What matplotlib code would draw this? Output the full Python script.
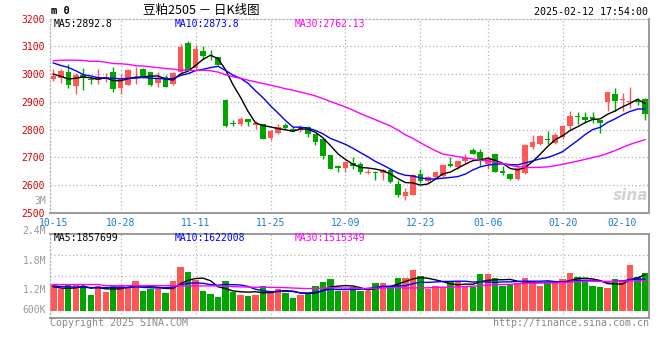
import matplotlib.pyplot as plt
import numpy as np
import pandas as pd

# daily K-line, 豆粕2505, 2024-10-15 .. 2025-02-12 (80 sessions)
open_ = [2982, 2987, 3007, 2958, 2995, 2982, 2979, 2981, 3007, 2951,
         2960, 3013, 3018, 3007, 2969, 2989, 2964, 3006, 3113, 3023,
         3083, 3080, 3060, 2905, 2825, 2821, 2840, 2818, 2822, 2770,
         2787, 2816, 2804, 2799, 2808, 2783, 2765, 2708, 2668, 2662,
         2681, 2675, 2644, 2648, 2645, 2654, 2606, 2562, 2564, 2639,
         2615, 2630, 2633, 2676, 2667, 2687, 2726, 2720, 2678, 2711,
         2651, 2642, 2622, 2644, 2738, 2747, 2768, 2753, 2773, 2812,
         2850, 2844, 2845, 2836, 2898, 2929, 2905, 2899, 2907, 2910]
high = [3020, 3017, 3036, 3005, 3022, 2990, 3018, 3005, 3025, 3000,
        3017, 3024, 3021, 3007, 3007, 2995, 3007, 3110, 3118, 3104,
        3100, 3086, 3060, 2912, 2835, 2846, 2840, 2830, 2822, 2800,
        2820, 2825, 2809, 2815, 2812, 2783, 2765, 2708, 2672, 2687,
        2701, 2685, 2657, 2652, 2657, 2657, 2618, 2589, 2639, 2660,
        2633, 2649, 2676, 2701, 2687, 2711, 2734, 2729, 2705, 2713,
        2669, 2645, 2669, 2747, 2782, 2779, 2794, 2788, 2818, 2866,
        2862, 2864, 2862, 2836, 2937, 2949, 2931, 2952, 2913, 2913]
low = [2976, 2969, 2951, 2930, 2942, 2963, 2964, 2971, 2937, 2930,
       2959, 2966, 2987, 2957, 2955, 2955, 2960, 3005, 3012, 3020,
       3055, 3050, 3031, 2810, 2812, 2814, 2812, 2804, 2765, 2764,
       2783, 2804, 2794, 2791, 2774, 2743, 2694, 2657, 2648, 2648,
       2660, 2640, 2640, 2617, 2620, 2607, 2558, 2546, 2564, 2609,
       2610, 2625, 2630, 2667, 2660, 2681, 2711, 2669, 2660, 2648,
       2636, 2620, 2620, 2640, 2731, 2743, 2747, 2750, 2766, 2798,
       2822, 2824, 2824, 2788, 2866, 2866, 2866, 2877, 2889, 2836]
close = [2994, 3010, 2961, 2996, 2987, 2977, 2988, 2985, 2946, 2984,
         3014, 3016, 2988, 2962, 2986, 2955, 3004, 3096, 3012, 3089,
         3064, 3078, 3033, 2812, 2819, 2839, 2826, 2825, 2765, 2794,
         2809, 2805, 2796, 2811, 2785, 2755, 2706, 2657, 2662, 2684,
         2669, 2648, 2647, 2643, 2654, 2611, 2564, 2576, 2637, 2615,
         2630, 2649, 2673, 2669, 2687, 2699, 2714, 2687, 2699, 2648,
         2645, 2622, 2661, 2743, 2755, 2776, 2762, 2782, 2814, 2850,
         2844, 2836, 2839, 2824, 2934, 2902, 2911, 2902, 2898, 2856]
# volume, millions of lots
volume = [1.378, 1.120, 1.310, 1.310, 1.275, 0.810, 1.275, 0.965, 1.275, 1.327,
          1.239, 1.533, 1.017, 1.120, 1.136, 0.929, 1.533, 2.256, 1.998, 1.585,
          1.017, 0.862, 0.707, 1.533, 0.981, 0.810, 0.759, 0.810, 1.275, 1.032,
          1.136, 0.929, 0.656, 0.810, 0.914, 1.275, 1.481, 1.636, 1.032, 1.032,
          1.208, 1.032, 1.032, 1.445, 1.445, 1.275, 1.688, 1.688, 2.101, 1.791,
          1.105, 1.275, 1.239, 1.533, 1.533, 1.275, 1.239, 1.894, 1.894, 1.688,
          1.275, 1.327, 1.414, 1.688, 1.533, 1.275, 1.445, 1.481, 1.636, 1.962,
          1.740, 1.585, 1.275, 1.223, 1.172, 1.636, 1.585, 2.359, 1.740, 1.962]

# moving-average values before a full window exists
ma5_head = [3000, 2992, 2982, 2985]
ma10_head = [3040, 3031, 3024, 3012, 2998, 2993, 2987, 2986, 2985]
ma30_head = [3048, 3050, 3050, 3050, 3049, 3046, 3046, 3043, 3038, 3037,
             3035, 3030, 3029, 3026, 3023, 3020, 3018, 3014, 3014, 3013,
             3014, 3012, 3007, 2998, 2990, 2985, 2978, 2972, 2966]
vma5_head = [1.24, 1.17, 1.15, 1.18]
vma10_head = [1.27, 1.25, 1.23, 1.21, 1.20, 1.19, 1.19, 1.19, 1.20]
vma30_head = [1.35, 1.35, 1.35, 1.35, 1.35, 1.35, 1.35, 1.29, 1.29, 1.29,
              1.29, 1.29, 1.29, 1.29, 1.29, 1.29, 1.29, 1.28, 1.28, 1.28,
              1.28, 1.28, 1.28, 1.28, 1.24, 1.23, 1.22, 1.21, 1.21]

tick_idx = [0, 9, 19, 29, 39, 49, 58, 68, 76]
tick_labels = ['10-15', '10-28', '11-11', '11-25', '12-09', '12-23', '01-06', '01-20', '02-10']
grid_idx = [9, 19, 29, 39, 49, 58, 68]
price_ticks = [2500, 2600, 2700, 2800, 2900, 3000, 3100, 3200]

ma_text = ['MA5:2892.8', 'MA10:2873.8', 'MA30:2762.13']
vma_text = ['MA5:1857699', 'MA10:1622008', 'MA30:1515349']
vol_labels = ['3M', '2.4M', '1.8M', '1.2M', '600K']

RED = '#ff5656'
GREEN = '#00a600'
MA_COLORS = ['black', '#0000ff', '#ff00ff']
GRID = '#b4b4b4'
FRAME = '#9a9a9a'
MONO = 'DejaVu Sans Mono'

open_ = np.array(open_, float)
close = np.array(close, float)
high = np.array(high, float)
low = np.array(low, float)
volume = np.array(volume)
x = np.arange(len(close))


def moving_avg(values, n, head):
    m = pd.Series(values).rolling(n).mean().to_numpy()
    m[:n - 1] = head
    return m


ma = [moving_avg(close, 5, ma5_head), moving_avg(close, 10, ma10_head),
      moving_avg(close, 30, ma30_head)]
vma = [moving_avg(volume, 5, vma5_head), moving_avg(volume, 10, vma10_head),
       moving_avg(volume, 30, vma30_head)]

W, H = 660, 360
fig = plt.figure(figsize=(6.6, 3.6), dpi=100)
ax = fig.add_axes([50 / W, 1 - 213 / H, 599 / W, 194.5 / H])
axv = fig.add_axes([50 / W, 1 - 318.3 / H, 599 / W, 84 / H])

xlim = (-0.44, 79.53)
colors = np.where(close >= open_, RED, GREEN)

# price panel
for y in price_ticks[1:-1]:
    ax.axhline(y, color=GRID, lw=0.9, ls=(0, (1, 2)), zorder=0)
for i in grid_idx:
    ax.axvline(i, color=GRID, lw=0.9, ls=(0, (1, 2)), zorder=0)
    axv.axvline(i, color=GRID, lw=0.9, ls=(0, (1, 2)), zorder=0)

ax.vlines(x, low, high, colors=colors, lw=1, zorder=2)
ax.bar(x, np.maximum(np.abs(close - open_), 2.5), bottom=np.minimum(open_, close),
       width=0.74, color=colors, lw=0, zorder=3)
for m, c in zip(ma, MA_COLORS):
    ax.plot(x, m, color=c, lw=1, zorder=4)

ax.set_xlim(*xlim)
ax.set_ylim(2500, 3200)
ax.set_yticks(price_ticks)
ax.set_yticklabels([str(p) for p in price_ticks], color='#dd0000',
                   fontsize=7, family=MONO)
ax.set_xticks(tick_idx)
ax.set_xticklabels(tick_labels, color='#1a7bd0', fontsize=7, family=MONO)
ax.tick_params(length=0, pad=3.5)

for s in ['left', 'top']:
    ax.spines[s].set_color(GRID)
    ax.spines[s].set_linestyle((0, (1, 2)))
    ax.spines[s].set_linewidth(0.9)
for s in ['right', 'bottom']:
    ax.spines[s].set_color(FRAME)
    ax.spines[s].set_linewidth(1.4)

for t, c, px in zip(ma_text, MA_COLORS, [54, 175, 295]):
    ax.text((px - 50) / 599, 1 - 5.5 / 194.5, t, color=c, fontsize=7, family=MONO,
            transform=ax.transAxes, va='center', ha='left')

# volume panel
vlo, vhi = -0.392, 3.942
for f in [0.25, 0.5, 0.75]:
    axv.axhline(vlo + f * (vhi - vlo), color=GRID, lw=0.9, ls=(0, (1, 2)), zorder=0)
axv.bar(x, volume, width=0.86, color=colors, lw=0, zorder=2)
for m, c in zip(vma, MA_COLORS):
    axv.plot(x, m, color=c, lw=1, zorder=3)
axv.set_xlim(*xlim)
axv.set_ylim(vlo, vhi)
axv.set_xticks([])
axv.set_yticks([])
axv.spines['left'].set_color(GRID)
axv.spines['left'].set_linestyle((0, (1, 2)))
axv.spines['left'].set_linewidth(0.9)
for s in ['right', 'bottom', 'top']:
    axv.spines[s].set_color(FRAME)
    axv.spines[s].set_linewidth(1.4)

for t, c, px in zip(vma_text, MA_COLORS, [54, 175, 295]):
    axv.text((px - 50) / 599, 1 - 3.5 / 84, t, color=c, fontsize=7, family=MONO,
             transform=axv.transAxes, va='center', ha='left')

for t, py in zip(vol_labels, [201, 231, 261, 290, 310]):
    fig.text(46 / W, 1 - py / H, t, color='#999999', fontsize=7, family=MONO,
             ha='right', va='center')

# header and footer
fig.text(51 / W, 1 - 11 / H, 'm 0', fontsize=7.5, family=MONO, weight='bold',
         ha='left', va='center')
fig.text(201 / W, 1 - 10 / H, '豆粕2505 － 日K线图', fontsize=9,
         family=['Noto Sans CJK SC', 'DejaVu Sans'], ha='center', va='center')
fig.text(648 / W, 1 - 12 / H, '2025-02-12 17:54:00', fontsize=7.2, family=MONO,
         ha='right', va='center')
fig.text(50 / W, 1 - 323.5 / H, 'Copyright 2025 SINA.COM', fontsize=7.2,
         family=MONO, color='#8a8a8a', ha='left', va='center')
fig.text(649 / W, 1 - 323.5 / H, 'http://finance.sina.com.cn', fontsize=7.2,
         family=MONO, color='#8a8a8a', ha='right', va='center')
fig.text(648 / W, 1 - 196 / H, 'sina', fontsize=11, style='italic', weight='bold',
         color='#d2d2d2', ha='right', va='center', zorder=1)

fig.savefig('out.png', dpi=100, facecolor='white')
